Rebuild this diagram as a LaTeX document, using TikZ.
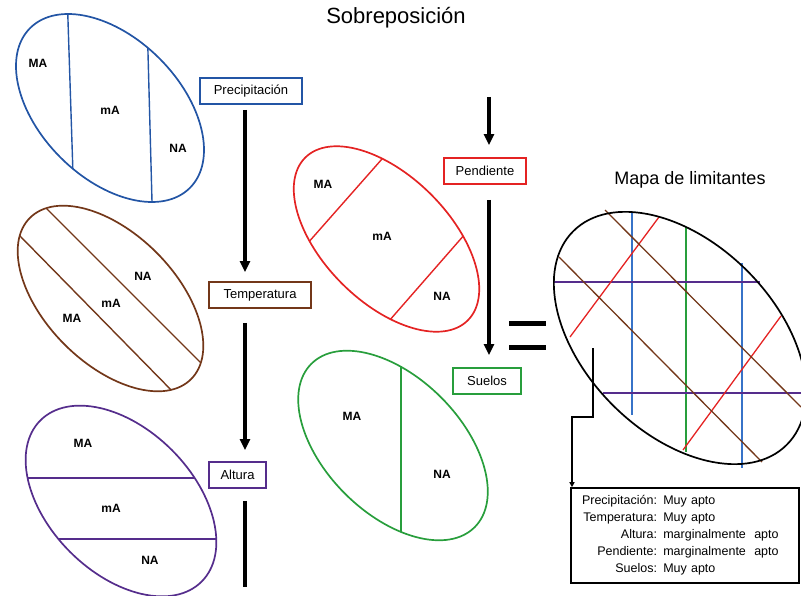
\documentclass[tikz,border=0pt]{standalone}
\usepackage{fontspec}
\setmainfont{Liberation Sans}
\usetikzlibrary{arrows.meta}

\definecolor{azul}{RGB}{35,85,165}
\definecolor{cafe}{RGB}{115,55,25}
\definecolor{morado}{RGB}{85,45,140}
\definecolor{rojo}{RGB}{228,35,35}
\definecolor{verde}{RGB}{40,158,60}
\definecolor{azulclaro}{RGB}{55,115,200}

\begin{document}
\begin{tikzpicture}[x=1pt, y=-1pt,
  borde/.style={line width=1.7pt},
  corte/.style={line width=1.4pt},
  traza/.style={line width=1.3pt},
  zona/.style={font=\fontsize{12}{12}\selectfont\bfseries},
  capa/.style={draw, line width=1.8pt, minimum height=26pt, inner sep=2pt, font=\fontsize{13}{13}\selectfont},
  flecha/.style={line width=3.2pt, -{Triangle[length=11pt,width=10pt]}},
  ]
\useasboundingbox (0,0) rectangle (801,596);

\node[font=\fontsize{22}{22}\selectfont] (titulo) at (396,18) {Sobreposición};
\node[font=\fontsize{18}{18}\selectfont] (titmapa) at (690,180) {Mapa de limitantes};

% precipitacion
\begin{scope}
\clip[rotate around={-45:(110,108)}] (110,108) ellipse [x radius=113, y radius=70];
\draw[corte, azul] (67,-10) -- (74.5,220);
\draw[corte, azul] (146.3,-10) -- (152.5,220);
\end{scope}
\draw[borde, azul, rotate around={-45:(110,108)}] (110,108) ellipse [x radius=113, y radius=70];
\node[zona] (pMA) at (38,63) {MA};
\node[zona] (pmA) at (110,110) {mA};
\node[zona] (pNA) at (178,148) {NA};

% temperatura
\begin{scope}
\clip[rotate around={-45:(110.5,298.5)}] (110.5,298.5) ellipse [x radius=114, y radius=65];
\draw[corte, cafe] (0,215.6) -- (230,450);
\draw[corte, cafe] (20,182) -- (230,392);
\end{scope}
\draw[borde, cafe, rotate around={-45:(110.5,298.5)}] (110.5,298.5) ellipse [x radius=114, y radius=65];
\node[zona] (tNA) at (143,276) {NA};
\node[zona] (tmA) at (111,303) {mA};
\node[zona] (tMA) at (72,318) {MA};

% altura
\begin{scope}
\clip[rotate around={-45:(121,501)}] (121,501) ellipse [x radius=114, y radius=72];
\draw[corte, morado] (0,478) -- (240,478);
\draw[corte, morado] (0,539) -- (240,539);
\end{scope}
\draw[borde, morado, rotate around={-45:(121,501)}] (121,501) ellipse [x radius=114, y radius=72];
\node[zona] (aMA) at (83,443) {MA};
\node[zona] (amA) at (111,508) {mA};
\node[zona] (aNA) at (150,560) {NA};

% pendiente
\begin{scope}
\clip[rotate around={-45:(386.5,239)}] (386.5,239) ellipse [x radius=115, y radius=63];
\draw[corte, rojo] (412,125) -- (277,278);
\draw[corte, rojo] (495,199.7) -- (359,355.3);
\end{scope}
\draw[borde, rojo, rotate around={-45:(386.5,239)}] (386.5,239) ellipse [x radius=115, y radius=63];
\node[zona] (eMA) at (323,184) {MA};
\node[zona] (emA) at (382,236) {mA};
\node[zona] (eNA) at (442,296) {NA};

% suelos
\begin{scope}
\clip[rotate around={-45:(393,445.5)}] (393,445.5) ellipse [x radius=115.5, y radius=68];
\draw[corte, verde] (401,340) -- (401,560);
\end{scope}
\draw[borde, verde, rotate around={-45:(393,445.5)}] (393,445.5) ellipse [x radius=115.5, y radius=68];
\node[zona] (sMA) at (352,416) {MA};
\node[zona] (sNA) at (442,474) {NA};

% capas
\node[capa, draw=azul, minimum width=102pt] (prec) at (251,91) {Precipitación};
\node[capa, draw=cafe, minimum width=102pt] (temp) at (260,295) {Temperatura};
\node[capa, draw=morado, minimum width=57pt] (alt) at (237.5,475) {Altura};
\node[capa, draw=rojo, minimum width=82pt] (pend) at (485,171) {Pendiente};
\node[capa, draw=verde, minimum width=68pt] (suel) at (487,381) {Suelos};

\coordinate (colA) at (245,0);
\coordinate (colB) at (489,0);
\coordinate (finA) at (245,587);
\coordinate (iniB) at (489,97);

\foreach \from/\to/\col/\a/\b in {prec/temp/colA/5/9, temp/alt/colA/14/11, pend/suel/colB/15/12}
\draw[flecha, shorten <=\a pt, shorten >=\b pt] (\from.south -| \col) -- (\to.north -| \col);
\draw[flecha, shorten >=12pt] (iniB) -- (pend.north -| colB);
\draw[line width=3.2pt, shorten <=12pt] (alt.south -| colA) -- (finA);

% igual
\draw[line width=5pt] (509,323) -- (546,323);
\draw[line width=5pt] (509,347) -- (546,347);

% mapa de limitantes
\draw[traza, azulclaro] (632,212) -- (632,415);
\draw[traza, azulclaro] (742,263) -- (742,468);
\draw[traza, verde] (686,227) -- (686,452);
\draw[traza, morado] (554,282) -- (760,282);
\draw[traza, morado] (603,393) -- (801,393);
\draw[traza, rojo] (659,217) -- (570,337);
\draw[traza, rojo] (781,316) -- (683,450);
\draw[traza, cafe] (605,210) -- (801,407);
\draw[traza, cafe] (559,257) -- (762,462);
\draw[borde, black, rotate around={-45:(680,338)}] (680,338) ellipse [x radius=151, y radius=95];

\node[draw, line width=1.6pt, minimum width=228pt, minimum height=95pt, inner xsep=11pt, text width=206pt,
  font=\fontsize{12.5}{17}\selectfont] (resumen) at (685,535.5)
  {\begin{tabular}{@{}r@{ }l@{}}
  Precipitación: & Muy apto\\
  Temperatura: & Muy apto\\
  Altura: & marginalmente~ apto\\
  Pendiente: & marginalmente~ apto\\
  Suelos: & Muy apto
  \end{tabular}};

\coordinate (salida) at (593,348);
\coordinate (codo) at (572,417);
\draw[line width=1.6pt, -{Triangle[length=5pt,width=5pt]}] (salida) |- (codo) -- (codo |- resumen.north);
\end{tikzpicture}
\end{document}
